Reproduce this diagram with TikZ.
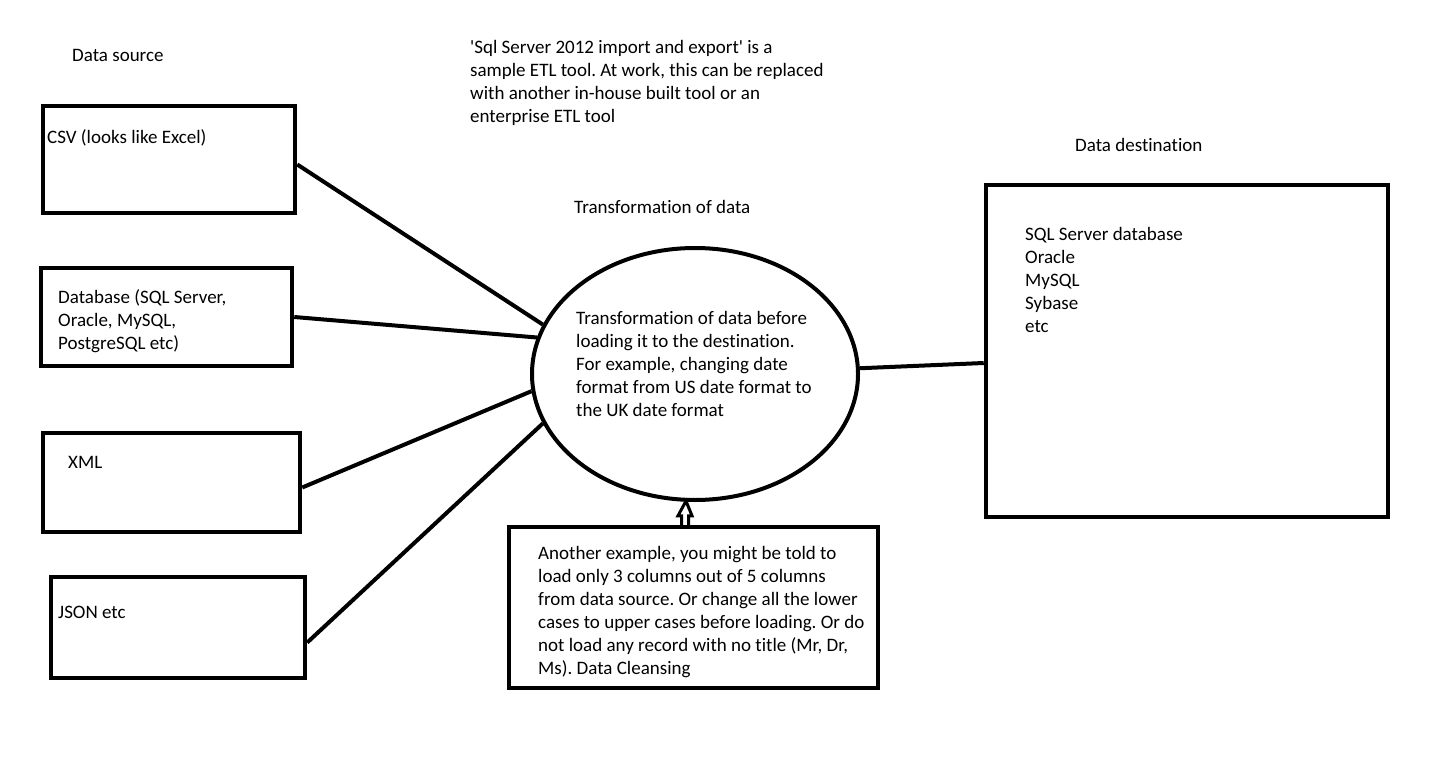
\documentclass[tikz,border=0pt]{standalone}
\usepackage{fontspec}
\setmainfont{Carlito}[RawFeature={-liga}]
\frenchspacing
\usetikzlibrary{shapes.geometric,calc}
\tikzset{
  box/.style={draw, line width=4.5pt, inner sep=0pt, rectangle},
  txt/.style={anchor=base west, align=left, inner sep=0pt, font=\fontsize{19}{23}\selectfont},
  link/.style={line width=4pt}
}
\begin{document}
\begin{tikzpicture}[x=1pt,y=-1pt]
\useasboundingbox (0,0) rectangle (1433,757);
% boxes
\node[box, minimum width=252, minimum height=107] (csv) at (169,159.5) {};
\node[box, minimum width=251, minimum height=98] (db) at (166.5,317) {};
\node[box, minimum width=257, minimum height=99] (xml) at (171.5,482.5) {};
\node[box, minimum width=254, minimum height=101] (json) at (178,627.5) {};
\node[box, minimum width=402, minimum height=332] (dest) at (1187,351) {};
\node[box, minimum width=369, minimum height=161] (bot) at (693.5,607.5) {};
\node[draw, ellipse, line width=4pt, inner sep=0pt, minimum width=326, minimum height=252] (ell) at (695,374) {};
% texts (base = baseline of last line)
\node[txt] (tsrc) at (72,62) {Data source};
\node[txt] (tnote) at (470,123) {\textquotesingle Sql Server 2012 import and export\textquotesingle{} is a\\sample ETL tool. At work, this can be replaced\\with another in-house built tool or an\\enterprise ETL tool};
\node[txt] (tdst) at (1075,152) {Data destination};
\node[txt] (ttrf) at (574,214) {Transformation of data};
\node[txt] (tcsv) at (47,144) {CSV (looks like Excel)};
\node[txt] (tdb) at (58,349) {Database (SQL Server,\\Oracle, MySQL,\\PostgreSQL etc)};
\node[txt] (txml) at (68,468) {XML};
\node[txt] (tjson) at (58,618) {JSON etc};
\node[txt] (tell) at (576,416) {Transformation of data before\\loading it to the destination.\\For example, changing date\\format from US date format to\\the UK date format};
\node[txt] (tdest) at (1025,332) {SQL Server database\\Oracle\\MySQL\\Sybase\\etc};
\node[txt] (tbot) at (538,674) {Another example, you might be told to\\load only 3 columns out of 5 columns\\from data source. Or change all the lower\\cases to upper cases before loading. Or do\\not load any record with no title (Mr, Dr,\\Ms). Data Cleansing};
% connectors
\draw[link] ([yshift=-5pt]csv.east) -- (ell.162);
\draw[link] (db.east) -- (ell.167);
\draw[link] ([yshift=-5pt]xml.east) -- (ell.186);
\draw[link] ([yshift=-15pt]json.east) -- (ell.198);
\draw[link] (ell.2.5) -- ([yshift=-12pt]dest.west);
% hollow arrow
\coordinate (abase) at ([xshift=-8.5pt]bot.north);
\coordinate (atip) at ($(ell.south)+(-9,-1)$);
\draw[line width=3pt, fill=white, line join=miter]
  ($(abase)+(-3.5,0)$) -- ($(abase)+(-3.5,-9)$) -- ($(abase)+(-7,-9)$) -- (atip)
  -- ($(abase)+(7,-9)$) -- ($(abase)+(3.5,-9)$) -- ($(abase)+(3.5,0)$);
\end{tikzpicture}
\end{document}
